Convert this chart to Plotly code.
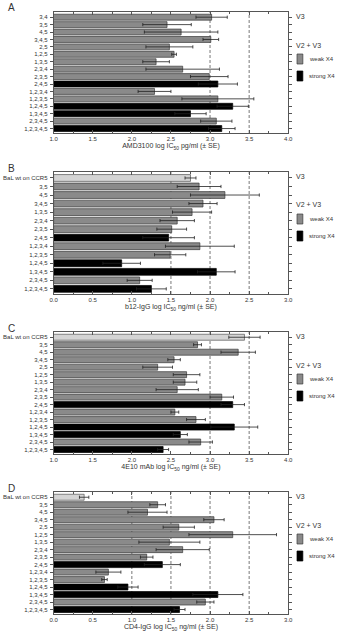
import plotly.graph_objects as go

W, H = 339, 639

# ---------------- data ----------------
A_labels = ["3,4", "3,5", "4,5", "3,4,5", "2,5", "1,2,5", "1,3,5", "2,3,4", "2,3,5",
            "2,4,5", "1,2,3,4", "1,2,3,5", "1,2,4,5", "1,3,4,5", "2,3,4,5", "1,2,3,4,5"]
A_values = [3.02, 2.45, 2.63, 3.01, 2.48, 2.54, 2.31, 2.65, 2.99,
            3.10, 2.29, 3.10, 3.29, 2.75, 3.08, 3.15]
A_err = [0.20, 0.31, 0.47, 0.10, 0.30, 0.03, 0.17, 0.47, 0.24,
         0.25, 0.21, 0.46, 0.20, 0.20, 0.20, 0.17]
A_group = ["weak", "weak", "weak", "weak", "weak", "weak", "weak", "weak", "weak",
           "strong", "weak", "weak", "strong", "strong", "weak", "strong"]

B_labels = ["BaL wt on CCR5", "3,5", "4,5", "3,4,5", "1,3,5", "2,3,4", "2,3,5",
            "2,4,5", "1,2,3,4", "1,2,3,5", "1,2,4,5", "1,3,4,5", "2,3,4,5", "1,2,3,4,5"]
B_values = [1.75, 1.86, 2.19, 1.91, 1.77, 1.58, 1.51,
            1.47, 1.87, 1.49, 0.87, 2.08, 1.10, 1.25]
B_err = [0.07, 0.28, 0.44, 0.18, 0.25, 0.22, 0.19,
         0.33, 0.44, 0.20, 0.24, 0.24, 0.16, 0.19]
B_group = ["wt", "weak", "weak", "weak", "weak", "weak", "weak",
           "strong", "weak", "weak", "strong", "strong", "weak", "strong"]

C_labels = ["BaL wt on CCR5", "3,5", "4,5", "3,4,5", "2,5", "1,2,5", "1,3,5", "2,3,4", "2,3,5",
            "2,4,5", "1,2,3,4", "1,2,3,5", "1,2,4,5", "1,3,4,5", "2,3,4,5", "1,2,3,4,5"]
C_values = [3.44, 2.84, 3.36, 2.54, 2.33, 2.70, 2.68, 2.58, 3.15,
            3.29, 2.55, 2.82, 3.31, 2.62, 2.88, 2.40]
C_err = [0.20, 0.05, 0.22, 0.08, 0.19, 0.17, 0.15, 0.27, 0.15,
         0.15, 0.05, 0.12, 0.30, 0.09, 0.15, 0.07]
C_group = ["wt", "weak", "weak", "weak", "weak", "weak", "weak", "weak", "weak",
           "strong", "weak", "weak", "strong", "strong", "weak", "strong"]

D_labels = ["BaL wt on CCR5", "3,5", "4,5", "3,4,5", "2,5", "1,2,5", "1,3,5", "2,3,4", "2,3,5",
            "2,4,5", "1,2,3,4", "1,2,3,5", "1,2,4,5", "1,3,4,5", "2,3,4,5", "1,2,3,4,5"]
D_values = [0.39, 1.33, 1.20, 2.05, 1.60, 2.29, 1.48, 1.65, 1.19,
            1.39, 0.70, 0.65, 0.95, 2.10, 1.94, 1.61]
D_err = [0.06, 0.10, 0.25, 0.13, 0.20, 0.56, 0.39, 0.34, 0.08,
         0.23, 0.16, 0.035, 0.13, 0.32, 0.11, 0.07]
D_group = ["wt", "weak", "weak", "weak", "weak", "weak", "weak", "weak", "weak",
           "strong", "weak", "weak", "strong", "strong", "weak", "strong"]

panel_letters = ["A", "B", "C", "D"]
axis_titles = [
    "AMD3100 log IC<sub>50</sub> pg/ml (± SE)",
    "b12-IgG log IC<sub>50</sub> ng/ml (± SE)",
    "4E10 mAb log IC<sub>50</sub> ng/ml (± SE)",
    "CD4-IgG log IC<sub>50</sub> ng/ml (± SE)",
]
x_ranges = [[1.0, 4.0], [0.0, 3.0], [1.0, 4.0], [0.0, 3.0]]
ref_lines = [[3.0, 3.5], [1.5, 2.0, 2.5], [3.0, 3.5], [1.0, 1.5, 2.0, 2.5]]
legend_texts = ["V3", "V2 + V3", "weak X4", "strong X4"]

# ---------------- style ----------------
FILL = {"wt": "#d4d4d4", "weak": "#8a8a8a", "strong": "#000000"}
LINE = {"wt": "#555555", "weak": "#3a3a3a", "strong": "#000000"}
TXT = "#333333"
FONT = "Liberation Sans, Arial, sans-serif"

panels = [
    (A_labels, A_values, A_err, A_group),
    (B_labels, B_values, B_err, B_group),
    (C_labels, C_values, C_err, C_group),
    (D_labels, D_values, D_err, D_group),
]
tops = [12, 172, 332, 492]
bottoms = [133, 294, 454, 614]
X0, X1 = 51, 292


def px(x):
    return x / W


def py(y):
    return 1 - y / H


fig = go.Figure()
shapes = []
annotations = []
layout = {}

for i, (labels, values, errs, groups) in enumerate(panels):
    k = "" if i == 0 else str(i + 1)
    xa, ya = "x" + k, "y" + k
    fig.add_trace(go.Bar(
        x=values, y=labels, orientation="h",
        marker=dict(color=[FILL[g] for g in groups],
                    line=dict(color=[LINE[g] for g in groups], width=0.7)),
        error_x=dict(type="data", array=errs, visible=True,
                     color="#222222", thickness=0.8, width=1.6),
        xaxis=xa, yaxis=ya, showlegend=False, hoverinfo="skip",
    ))
    n = len(labels)
    layout["xaxis" + k] = dict(
        domain=[px(X0), px(X1)], anchor=ya, range=x_ranges[i],
        dtick=0.5, tickformat=".1f", ticks="inside", ticklen=3, tickwidth=0.7,
        tickcolor="#555555", minor=dict(dtick=0.25, ticks="inside", ticklen=2,
                                        tickcolor="#555555", tickwidth=0.7),
        showline=True, linecolor="#555555", linewidth=0.8, mirror="allticks",
        showgrid=False, zeroline=False,
        tickfont=dict(size=6, color=TXT, family=FONT),
        title=dict(text=axis_titles[i], standoff=1,
                   font=dict(size=7, color=TXT, family=FONT)),
    )
    layout["yaxis" + k] = dict(
        domain=[py(bottoms[i]), py(tops[i])], anchor=xa,
        type="category", range=[n - 0.4, -0.7],
        ticks="outside", ticklen=3, tickwidth=0.7, tickcolor="#555555",
        showline=True, linecolor="#555555", linewidth=0.8, mirror="allticks",
        showgrid=False, zeroline=False, ticklabelstandoff=1,
        tickfont=dict(size=6, color=TXT, family=FONT),
    )
    for v in ref_lines[i]:
        shapes.append(dict(type="line", xref=xa, yref=ya + " domain",
                           x0=v, x1=v, y0=0, y1=1, layer="below",
                           line=dict(color="#555555", width=0.8, dash="3px,2px")))
    t = tops[i]
    # panel letter
    annotations.append(dict(text=panel_letters[i], x=px(2), y=py(t - 4),
                            xref="paper", yref="paper", xanchor="left", yanchor="middle",
                            showarrow=False, font=dict(size=10, color=TXT, family=FONT)))
    # legend
    annotations.append(dict(text=legend_texts[0], x=px(298), y=py(t + 4),
                            xref="paper", yref="paper", xanchor="left", yanchor="middle",
                            showarrow=False, font=dict(size=7, color=TXT, family=FONT)))
    annotations.append(dict(text=legend_texts[1], x=px(298), y=py(t + 33),
                            xref="paper", yref="paper", xanchor="left", yanchor="middle",
                            showarrow=False, font=dict(size=7, color=TXT, family=FONT)))
    annotations.append(dict(text=legend_texts[2], x=px(311), y=py(t + 47),
                            xref="paper", yref="paper", xanchor="left", yanchor="middle",
                            showarrow=False, font=dict(size=6, color=TXT, family=FONT)))
    annotations.append(dict(text=legend_texts[3], x=px(311), y=py(t + 64),
                            xref="paper", yref="paper", xanchor="left", yanchor="middle",
                            showarrow=False, font=dict(size=6, color=TXT, family=FONT)))
    shapes.append(dict(type="rect", xref="paper", yref="paper",
                       x0=px(301), x1=px(307), y0=py(t + 52), y1=py(t + 42),
                       fillcolor=FILL["weak"], line=dict(color=LINE["weak"], width=0.7)))
    shapes.append(dict(type="rect", xref="paper", yref="paper",
                       x0=px(301), x1=px(307), y0=py(t + 69), y1=py(t + 59),
                       fillcolor=FILL["strong"], line=dict(color=LINE["strong"], width=0.7)))

fig.update_layout(
    width=W, height=H, margin=dict(l=0, r=0, t=0, b=0),
    paper_bgcolor="white", plot_bgcolor="white",
    bargap=0.2, shapes=shapes, annotations=annotations,
    font=dict(family=FONT, color=TXT, size=6),
    **layout,
)

fig.write_html("out.html")
